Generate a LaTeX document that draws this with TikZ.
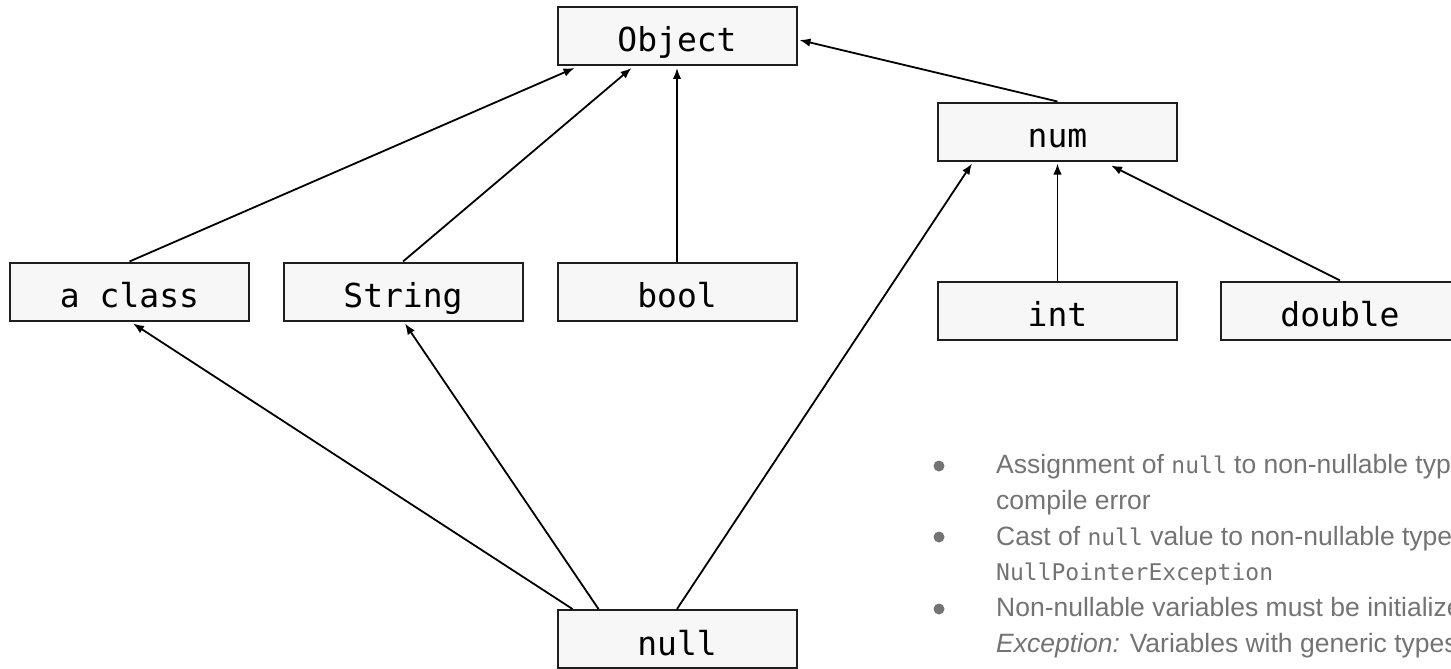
\documentclass[tikz,border=0pt]{standalone}
\usepackage{fontspec}
\setmainfont{Liberation Sans}
\newfontfamily\boxfont{DejaVu Sans Mono}
\newfontfamily\codefont{DejaVu Sans Mono}
\usetikzlibrary{arrows.meta,calc}
\definecolor{boxfill}{HTML}{F7F7F7}
\definecolor{boxline}{HTML}{1E1E1E}
\definecolor{notegray}{HTML}{737373}
\newcommand{\code}[1]{{\codefont\fontsize{23}{26}\selectfont #1}}
\tikzset{
  typebox/.style={draw=boxline, line width=2pt, fill=boxfill,
    minimum width=239pt, minimum height=58pt, inner sep=0pt,
    text height=32pt, text depth=0pt,
    font=\boxfont\fontsize{33}{38}\selectfont},
  isa/.style={line width=1.8pt, draw=black,
    -{Latex[length=11pt,width=8.5pt]}},
  noteline/.style={anchor=base west, inner sep=0pt, text=notegray,
    font=\fontsize{26.5}{30}\selectfont},
  dot/.style={fill=notegray}
}
\begin{document}
\begin{tikzpicture}[x=1pt,y=-1pt]
\useasboundingbox (0,0) rectangle (1451,669);
\clip (0,0) rectangle (1451,669);

% type boxes
\node[typebox] (obj)    at (677,36)      {Object};
\node[typebox] (num)    at (1057.5,131.5){num};
\node[typebox] (aclass) at (129.5,291.5) {a class};
\node[typebox] (str)    at (403,291.5)   {String};
\node[typebox] (bool)   at (677,291.5)   {bool};
\node[typebox] (int)    at (1057.5,310.5){int};
\node[typebox] (dbl)    at (1340,310.5)  {double};
\node[typebox] (nul)    at (677,639)     {null};

% subtype edges
\draw[isa] (aclass.north) -- ($(obj.south west)+(18,2)$);
\draw[isa] (str.north)    -- ($(obj.south west)+(75,2)$);
\draw[isa] (bool.north)   -- ($(obj.south)+(0,2)$);
\draw[isa] (num.north)    -- ($(obj.east)+(2,4)$);
\draw[isa] (int.north)    -- ($(num.south)+(0,2)$);
\draw[isa] (dbl.north)    -- ($(num.south east)+(-67,4)$);
\draw[isa] ($(nul.north west)+(16,0)$) -- ($(aclass.south)+(3.5,2)$);
\draw[isa] ($(nul.north west)+(42,0)$) -- ($(str.south)+(2,2)$);
\draw[isa] (nul.north)    -- ($(num.south west)+(35,2)$);

% notes
\fill[dot] (939,466) circle (5.5);
\fill[dot] (939,537) circle (5.5);
\fill[dot] (939,609) circle (5.5);
\node[noteline] (n1) at (996,473) {Assignment of \code{null} to non-nullable type};
\node[noteline] (n2) at (996,509) {compile error};
\node[noteline] (n3) at (996,545) {Cast of \code{null} value to non-nullable type};
\node[noteline] (n4) at (996,580) {\code{NullPointerException}};
\node[noteline] (n5) at (996,616) {Non-nullable variables must be initialized};
\node[noteline] (n6) at (996,652) {\textit{Exception:} Variables with generic types};
\end{tikzpicture}
\end{document}
